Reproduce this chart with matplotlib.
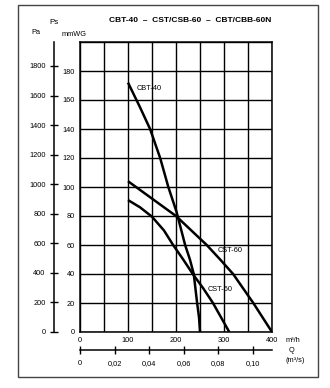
import matplotlib
matplotlib.use("Agg")
import matplotlib.pyplot as plt
from matplotlib.patches import Rectangle

plt.rcParams['font.family'] = ['Liberation Sans', 'DejaVu Sans']

# Data (flow m3/h, static pressure mmWG)
cbt40_q = [100, 125, 146, 167, 184, 201, 219, 229, 237, 244, 248, 250]
cbt40_p = [172, 155, 140, 120, 100, 83, 60, 50, 40, 20, 10, 0]
cst60a_q = [100, 125, 150, 175, 200, 232, 264, 292, 319, 361, 400]
cst60a_p = [104, 98, 92, 86, 80, 70, 60, 50, 40, 20, 0]
cst60b_q = [100, 125, 150, 175, 194, 215, 235, 257, 277, 311]
cst60b_p = [91, 86, 79.5, 70, 60, 50, 40, 30, 20, 0]

x_ticks = [0, 100, 200, 300, 400]
y_ticks = [0, 20, 40, 60, 80, 100, 120, 140, 160, 180]
pa_ticks = [0, 200, 400, 600, 800, 1000, 1200, 1400, 1600, 1800]
qs_ticks = [0, 0.02, 0.04, 0.06, 0.08, 0.10]
qs_labels = ["0", "0,02", "0,04", "0,06", "0,08", "0,10"]

W, H = 330, 388
fig = plt.figure(figsize=(W / 100, H / 100), dpi=100)
fig.patch.set_facecolor('white')

def fx(px):
    return px / W

def fy(py):
    return 1 - py / H

# outer frame
fig.add_artist(Rectangle((fx(18), fy(377)), fx(318) - fx(18), fy(5) - fy(377),
                         transform=fig.transFigure, fill=False, edgecolor='#444444', lw=1.0))

L, R, T, B = 80, 272, 42, 332
ax = fig.add_axes([fx(L), fy(B), fx(R) - fx(L), fy(T) - fy(B)])
ax.set_xlim(0, 400)
ax.set_ylim(0, 200)
ax.set_xticks(range(0, 401, 50))
ax.set_yticks(range(0, 201, 20))
ax.grid(True, color='black', lw=1.0)
ax.set_xticklabels(["0", "", "100", "", "200", "", "300", "", "400"])
ax.set_yticklabels([str(v) for v in y_ticks] + [""])
ax.tick_params(length=0, labelsize=5.3, pad=3.5)
for s in ax.spines.values():
    s.set_color('black')
    s.set_linewidth(1.1)

ax.plot(cbt40_q, cbt40_p, color='black', lw=1.8, solid_capstyle='butt')
ax.plot(cst60a_q, cst60a_p, color='black', lw=1.8, solid_capstyle='butt')
ax.plot(cst60b_q, cst60b_p, color='black', lw=1.8, solid_capstyle='butt')

ax.text(118, 168, "CBT-40", fontsize=5.3, va='center', ha='left')
ax.text(286, 56, "CST-60", fontsize=5.3, va='center', ha='left')
ax.text(265, 29, "CST-60", fontsize=5.3, va='center', ha='left')

# Pa axis
axp = fig.add_axes([fx(54), fy(B), 0.001, fy(T) - fy(B)])
axp.set_ylim(0, 200 * 9.81)
axp.set_yticks(pa_ticks)
axp.set_yticklabels([str(v) for v in pa_ticks])
axp.set_xticks([])
for k in ['top', 'right', 'bottom']:
    axp.spines[k].set_visible(False)
axp.spines['left'].set_linewidth(1.1)
axp.tick_params(axis='y', direction='inout', length=6, width=1.0, labelsize=5.3, pad=3)
axp.patch.set_visible(False)

# Q m3/s axis
axq = fig.add_axes([fx(L), fy(350), fx(R) - fx(L), 0.001])
axq.set_xlim(0, 400 / 3600)
axq.set_xticks(qs_ticks)
axq.set_xticklabels(qs_labels)
axq.set_yticks([])
for k in ['top', 'right', 'left']:
    axq.spines[k].set_visible(False)
axq.spines['bottom'].set_linewidth(1.1)
axq.tick_params(axis='x', direction='inout', length=6, width=1.0, labelsize=5.3, pad=4)
axq.patch.set_visible(False)

# texts
fig.text(fx(190), fy(20), "CBT-40  \u2013  CST/CSB-60  \u2013  CBT/CBB-60N", fontsize=6,
         fontweight='bold', ha='center', va='center')
fig.text(fx(36), fy(33), "Pa", fontsize=5.3, ha='center', va='center')
fig.text(fx(54), fy(23), "Ps", fontsize=5.8, ha='center', va='center')
fig.text(fx(74), fy(34), "mmWG", fontsize=5.3, ha='center', va='center')
fig.text(fx(286), fy(340), "m\u00b3/h", fontsize=5.3, ha='left', va='center')
fig.text(fx(289), fy(350), "Q", fontsize=5.3, ha='left', va='center')
fig.text(fx(286), fy(360), "(m\u00b3/s)", fontsize=5.3, ha='left', va='center')

fig.savefig("out.png", dpi=100)
